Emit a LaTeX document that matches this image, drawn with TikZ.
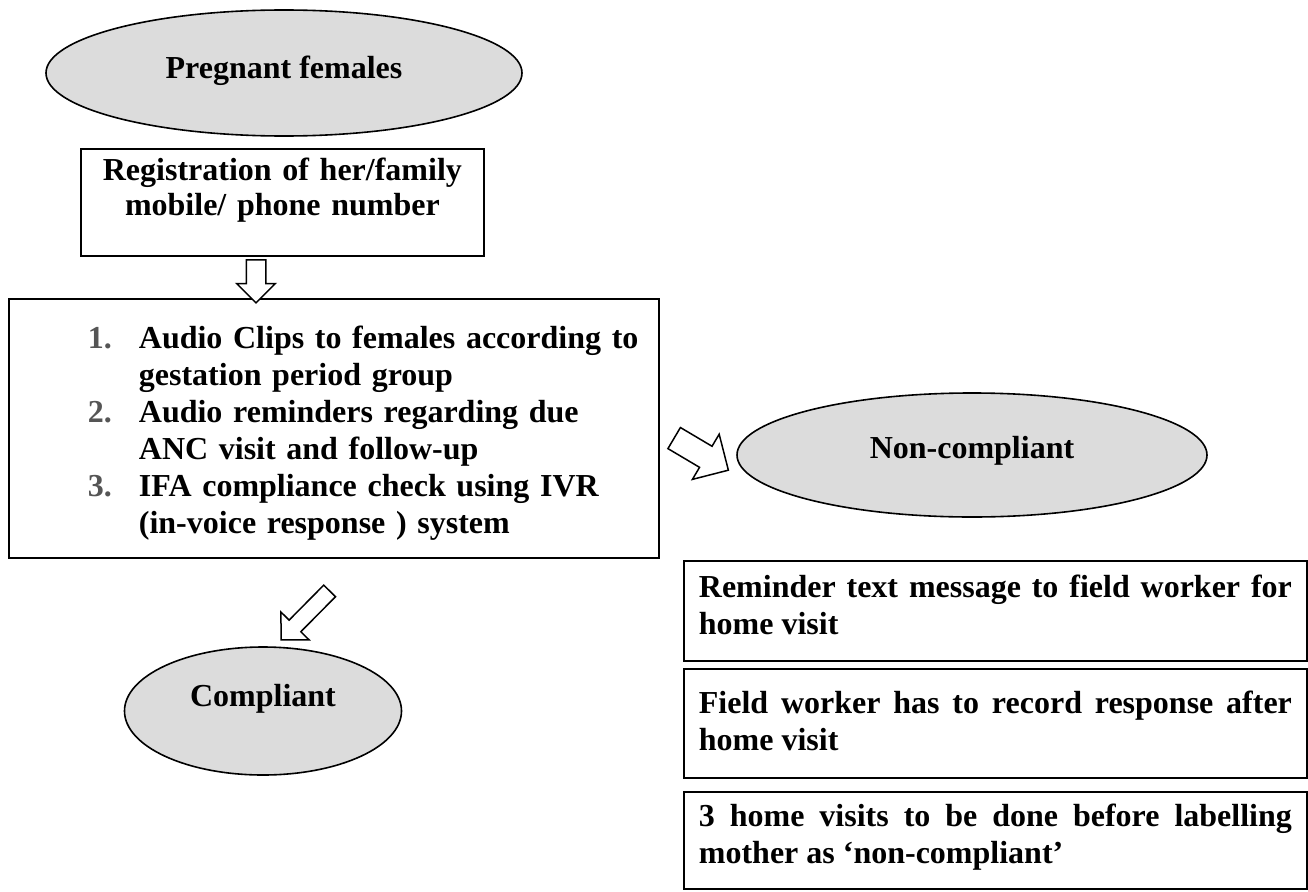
\documentclass[tikz,border=0pt]{standalone}
\usepackage{fontspec}
\setmainfont{Liberation Serif}
\usetikzlibrary{shapes.geometric,shapes.arrows}
\definecolor{ovalgray}{RGB}{220,220,220}
\definecolor{numgray}{RGB}{85,85,85}
\begin{document}
\begin{tikzpicture}[x=1pt,y=-1pt,
  every node/.style={font=\bfseries\fontsize{32}{37}\selectfont},
  oval/.style={ellipse,draw,line width=1.6pt,fill=ovalgray,inner sep=0pt,text height=22pt},
  box/.style={rectangle,draw,line width=1.8pt,anchor=north west,inner ysep=0pt},
  hollow/.style={single arrow,draw,line width=1.5pt,fill=white,inner xsep=0pt,
    single arrow tip angle=90,sloped,allow upside down}]
  \useasboundingbox (0,0) rectangle (1308,891);
  \node[oval,minimum width=476pt,minimum height=126pt,text depth=12pt] (preg) at (284,73) {Pregnant females};
  \node[box,inner xsep=10pt,text width=383pt,align=center,text height=32pt,text depth=75pt,
    font=\bfseries\fontsize{32}{35}\selectfont] (reg) at (80,148) {Registration of her/family\\mobile/ phone number};
  \node[box,inner xsep=10pt,text width=630pt,align=left,text height=50pt,text depth=209pt] (clips) at (8,298)
    {\hspace*{69pt}\makebox[51pt][l]{\color{numgray}1.}Audio Clips to females according to\\
     \hspace*{120pt}gestation period group\\
     \hspace*{69pt}\makebox[51pt][l]{\color{numgray}2.}Audio reminders regarding due\\
     \hspace*{120pt}ANC visit and follow-up\\
     \hspace*{69pt}\makebox[51pt][l]{\color{numgray}3.}IFA compliance check using IVR\\
     \hspace*{120pt}(in-voice response ) system};
  \node[oval,minimum width=470pt,minimum height=124pt,text depth=16pt] (noncomp) at (972,455) {Non-compliant};
  \node[oval,minimum width=277pt,minimum height=128pt,text depth=32pt] (comp) at (263,711) {Compliant};
  \node[box,inner xsep=15pt,text width=593pt,align=justify,text height=37pt,text depth=63pt] (sms) at (683,560)
    {Reminder text message to field worker for\linebreak home visit};
  \node[box,inner xsep=15pt,text width=593pt,align=justify,text height=45pt,text depth=64pt] (record) at (683,668)
    {Field worker has to record response after\linebreak home visit};
  \node[box,inner xsep=15pt,text width=593pt,align=justify,text height=35pt,text depth=62pt] (visits) at (683,791)
    {3 home visits to be done before labelling\linebreak mother as ‘non-compliant’};
  \coordinate (d0) at (256,255); \coordinate (d1) at (256,298);
  \coordinate (n0) at (669,435); \coordinate (n1) at (723,467);
  \coordinate (c0) at (332.5,588); \coordinate (c1) at (284,637);
  \path (d0) -- (d1) node[hollow,midway,minimum height=43pt,inner ysep=9pt,single arrow head extend=9.5pt] (down) {};
  \path (n0) -- (n1) node[hollow,midway,minimum height=63pt,inner ysep=11.5pt,single arrow head extend=14pt] (tonon) {};
  \path (c0) -- (c1) node[hollow,midway,minimum height=69pt,inner ysep=7.5pt,single arrow head extend=11.5pt] (tocomp) {};
\end{tikzpicture}
\end{document}
